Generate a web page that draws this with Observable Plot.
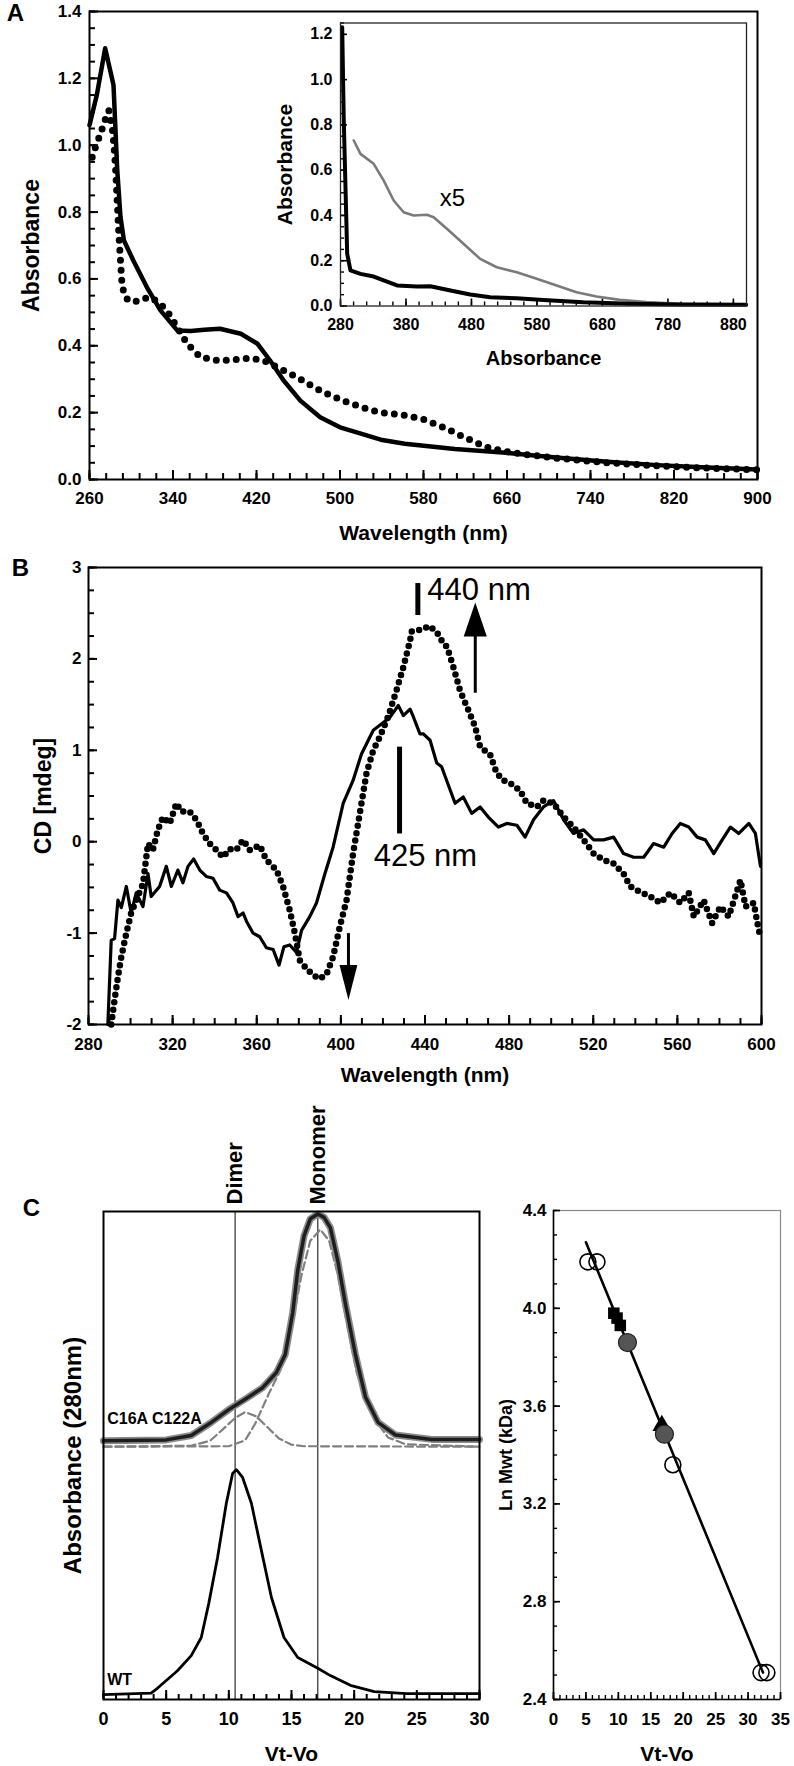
<!DOCTYPE html>
<html><head><meta charset="utf-8">
<script src="https://cdn.jsdelivr.net/npm/d3@7"></script>
<script src="https://cdn.jsdelivr.net/npm/@observablehq/plot@0.6"></script>
<style>
body{margin:0;background:#fff;}
#wrap{position:relative;width:794px;height:1766px;overflow:hidden;background:#fff;}
#wrap svg{position:absolute;}
</style>
</head><body><div id="wrap"></div>
<script>
// ---------- Panel A : absorbance spectra ----------
const absSolid = [[260,1.06],[267,1.15],[275,1.29],[283,1.18],[286.5,0.93],[289.7,0.785],[293,0.715],[302,0.655],[315,0.575],[328,0.506],[344,0.446],[357,0.444],[370,0.448],[385,0.451],[405,0.436],[421,0.406],[433,0.356],[446,0.296],[462,0.236],[481,0.186],[500,0.156],[520,0.137],[539,0.119],[562,0.107],[610,0.091],[659,0.080],[707,0.066],[756,0.053],[804,0.043],[852,0.036],[900,0.030]];
const absDotted = [[262.6,0.964],[265.7,0.994],[270.5,1.034],[275.3,1.079],[278.5,1.104],[281.7,1.054],[283.3,1.004],[284.9,0.934],[286.5,0.835],[288.1,0.735],[289.7,0.655],[291.3,0.575],[296,0.540],[302,0.530],[310.5,0.540],[318.4,0.545],[328,0.526],[336,0.496],[344,0.456],[353.6,0.406],[366.3,0.366],[382.3,0.356],[398.2,0.358],[414.2,0.363],[427,0.356],[443,0.331],[459,0.306],[475,0.276],[491,0.251],[507,0.231],[523,0.214],[537,0.201],[560,0.193],[580,0.180],[600,0.155],[620,0.125],[640,0.097],[660,0.083],[680,0.074],[707,0.064],[756,0.050],[804,0.041],[852,0.034],[900,0.029]];
const absXTicks = [260,340,420,500,580,660,740,820,900];
const absYTicks = [0,0.2,0.4,0.6,0.8,1.0,1.2,1.4];

// inset
const insetBlack = [[282.6,1.231],[285,0.819],[287.6,0.525],[290.2,0.231],[295.2,0.157],[310.5,0.142],[330.7,0.130],[346,0.113],[366.4,0.091],[396.8,0.086],[417.1,0.087],[442.5,0.072],[478,0.051],[508.5,0.039],[549,0.034],[589.7,0.027],[650.6,0.017],[721.7,0.010],[798,0.007],[899.5,0.006]];
const insetX5 = [[300.3,0.731],[310.5,0.672],[330.7,0.628],[346,0.554],[361.2,0.466],[376.4,0.414],[391.7,0.400],[412,0.403],[422.2,0.392],[442.5,0.341],[467.8,0.275],[493.3,0.208],[518.7,0.171],[549.1,0.149],[579.6,0.120],[610,0.091],[640.5,0.061],[671,0.042],[706.5,0.027],[747.2,0.017],[798,0.010],[899.5,0.008]];
const insetXTicks = [280,380,480,580,680,780,880];
const insetYTicks = [0,0.2,0.4,0.6,0.8,1.0,1.2];
const insetNote = [{x:451,y:0.475,t:"x5"}];

// ---------- Panel B : CD spectra ----------
const cdSolid = [[289.2,-2.0],[290.8,-1.08],[292.4,-1.06],[294,-0.64],[295.6,-0.72],[298,-0.49],[300.3,-0.78],[302.7,-0.56],[305.9,-0.71],[308.3,-0.35],[309.8,-0.60],[313.8,-0.49],[317,-0.27],[319.4,-0.49],[322.5,-0.31],[324.9,-0.45],[327.3,-0.27],[330,-0.19],[332.9,-0.31],[336,-0.38],[339.2,-0.40],[342.4,-0.53],[345.6,-0.56],[348.7,-0.67],[351.1,-0.82],[353.5,-0.78],[355.1,-0.87],[358.2,-1.0],[361.4,-1.04],[364.6,-1.16],[367.8,-1.18],[370.6,-1.35],[372.9,-1.15],[375.7,-1.13],[378.9,-1.21],[381.3,-0.97],[385.2,-0.82],[388.4,-0.67],[392.4,-0.35],[396.3,-0.06],[401.1,0.42],[405.8,0.67],[409.8,0.96],[415.4,1.22],[419.4,1.29],[423.3,1.36],[427.3,1.49],[429.7,1.38],[432.9,1.45],[434.4,1.37],[437.6,1.18],[439.2,1.18],[442.4,1.11],[445.6,0.86],[447.9,0.82],[450.3,0.67],[454.3,0.42],[458.2,0.49],[462.2,0.31],[466.2,0.38],[470.1,0.27],[474.9,0.16],[478.9,0.20],[483.7,0.18],[487.6,0.05],[491.6,0.24],[496.3,0.38],[501.1,0.45],[505.9,0.24],[510.6,0.09],[515.4,0.13],[520.2,0.02],[524.9,0.02],[529.7,0.05],[534.4,-0.13],[539.2,-0.17],[544,-0.17],[548.7,-0.02],[553.5,-0.06],[557.5,0.09],[561.4,0.20],[565.4,0.16],[569.4,0.05],[573.3,0.02],[577.3,-0.13],[581.3,0.02],[585.2,0.16],[589.2,0.09],[594,0.20],[597.1,0.09],[599.5,-0.27]];
const cdDotted = [[290.8,-2.0],[292.4,-1.73],[294,-1.48],[295.6,-1.26],[298,-1.0],[300.3,-0.78],[302.7,-0.64],[305.9,-0.46],[308.3,-0.02],[310.6,-0.09],[313,0.13],[315.4,0.27],[318.6,0.20],[321.8,0.42],[324.1,0.33],[328.1,0.33],[331.3,0.24],[334.4,0.09],[337.6,-0.02],[340.8,-0.09],[344,-0.17],[347.1,-0.08],[350.3,-0.09],[353.5,0.02],[356.7,-0.09],[361.4,-0.04],[364.6,-0.20],[369.4,-0.31],[372.5,-0.49],[375.7,-0.75],[378.1,-1.0],[380.5,-1.30],[383.7,-1.39],[386.8,-1.46],[390,-1.50],[393.2,-1.45],[396.3,-1.26],[399.5,-0.93],[402.7,-0.64],[405.8,-0.13],[409,0.31],[412.2,0.75],[415.4,1.0],[418.6,1.15],[422.5,1.37],[426.5,1.66],[429.7,1.91],[432.9,2.20],[433.7,2.30],[438,2.32],[442.1,2.36],[445.7,2.29],[448.7,2.17],[450.5,2.13],[453.5,1.91],[456.7,1.65],[460.6,1.44],[463.8,1.26],[466.2,1.04],[471,0.95],[474.1,0.75],[477.3,0.67],[480.5,0.64],[485.2,0.56],[488.4,0.42],[493.2,0.38],[496.3,0.45],[501.1,0.42],[505.9,0.27],[510.6,0.16],[515.4,0.02],[520.2,-0.13],[524.9,-0.20],[529.7,-0.24],[534.4,-0.35],[537.6,-0.49],[542.4,-0.55],[547.1,-0.60],[551.9,-0.67],[556.7,-0.56],[561.4,-0.67],[565.4,-0.56],[567.8,-0.82],[572.5,-0.64],[576.5,-0.89],[580.5,-0.71],[584.4,-0.82],[590,-0.42],[592.4,-0.71],[596.3,-0.67],[598.7,-0.97],[599.8,-1.04]];
const cdXTicks = [280,320,360,400,440,480,520,560,600];
const cdYTicks = [-2,-1,0,1,2,3];
const cdLabels = [{x:465.7,y:2.75,t:"440 nm"},{x:440.2,y:-0.16,t:"425 nm"}];
const cdBars = [{x:436.6,y1:2.48,y2:2.83},{x:427.9,y1:0.09,y2:1.04}];
const cdShafts = [{x:463.9,y1:1.63,y2:2.3},{x:403.6,y1:-1.0,y2:-1.4}];
const cdHeadUp = [{x:463.9,y:2.43}];
const cdHeadDown = [{x:403.6,y:-1.54}];

// ---------- Panel C : size exclusion ----------
const secWT = [[0,0.010],[3.8,0.013],[4.3,0.023],[5.9,0.059],[7.0,0.090],[7.8,0.127],[8.4,0.197],[9.1,0.291],[9.8,0.402],[10.3,0.463],[10.6,0.471],[11.1,0.455],[11.8,0.402],[12.6,0.305],[13.4,0.209],[14.4,0.127],[15.5,0.086],[17.1,0.064],[18.1,0.049],[19.7,0.029],[21.6,0.016],[24.2,0.012],[30,0.012]];
const secMut = [[0,0.53],[5,0.532],[7.0,0.541],[8.5,0.566],[10.1,0.596],[11.4,0.617],[12.7,0.639],[13.8,0.670],[14.5,0.707],[15.1,0.793],[15.5,0.880],[16.0,0.950],[16.5,0.985],[17.1,0.995],[17.6,0.988],[18.1,0.967],[18.7,0.898],[19.3,0.811],[20.1,0.707],[20.9,0.620],[21.9,0.568],[23.3,0.542],[26.2,0.533],[30,0.533]];
const secDimerFit = [[0,0.518],[7,0.520],[8.5,0.530],[9.5,0.553],[10.5,0.577],[11.3,0.589],[12.2,0.580],[13.0,0.560],[14.0,0.535],[15.0,0.522],[16,0.519],[30,0.518]];
const secMonomerFit = [[0,0.518],[10,0.519],[11.3,0.531],[12.1,0.565],[13.2,0.627],[14.1,0.674],[15,0.76],[15.8,0.87],[16.5,0.94],[17.3,0.963],[18.0,0.94],[18.7,0.87],[19.5,0.76],[20.2,0.67],[20.9,0.619],[21.7,0.572],[22.7,0.537],[24.1,0.523],[30,0.518]];
const secMarkers = [{x:10.5,t:"Dimer"},{x:17.1,t:"Monomer"}];
const secLabels = [{x:0.3,y:0.576,t:"C16A C122A"},{x:0.3,y:0.041,t:"WT"}];
const secXTicks = [0,5,10,15,20,25,30];

const calFit = [[5.0,4.27],[32.3,2.51]];
const calOpen = [[5.3,4.19],[6.7,4.19],[18.4,3.36],[32.0,2.51],[32.9,2.51]];
const calGray = [[11.4,3.86],[17.1,3.485]];
const calSquare = [[9.3,3.98],[9.8,3.96],[10.3,3.93]];
const calTriangle = [[16.7,3.52]];
const calXTicks = [0,5,10,15,20,25,30,35];
const calYTicks = [2.4,2.8,3.2,3.6,4.0,4.4];

// ---------- helpers ----------
const FONT = "'Liberation Sans', Arial, Helvetica, sans-serif";
const wrap = document.getElementById("wrap");
function place(svg, left, top) { svg.style.left = left + "px"; svg.style.top = top + "px"; wrap.appendChild(svg); }
function baseStyle() { return {fontFamily: FONT, fontSize: "17px", fontWeight: "bold", color: "#000", background: "transparent", overflow: "visible"}; }
// inward tick marks along the bottom / left frame edges, drawn as short rules through the scales
function xTickMarks(vals, yDom, ih, len, sw = 2) {
  const k = (yDom[1] - yDom[0]) * len / ih;
  return Plot.ruleX(vals, {x: d => d, y1: () => yDom[0], y2: () => yDom[0] + k, stroke: "#000", strokeWidth: sw});
}
function yTickMarks(vals, xDom, iw, len, sw = 2) {
  const k = (xDom[1] - xDom[0]) * len / iw;
  return Plot.ruleY(vals, {y: d => d, x1: () => xDom[0], x2: () => xDom[0] + k, stroke: "#000", strokeWidth: sw});
}
const headSym = (wf) => ({draw(ctx, size) { const r = Math.sqrt(size / Math.PI); ctx.moveTo(0, -r); ctx.lineTo(wf * r, r); ctx.lineTo(-wf * r, r); ctx.closePath(); }});
const fmt1 = d3.format(".1f");
const C = {textAnchor: "middle", lineAnchor: "middle"};
function xLabel(t, dy, fs) { return Plot.text([t], {text: d => d, frameAnchor: "bottom", dy, fontSize: fs, ...C}); }
function yLabel(t, dx, fs) { return Plot.text([t], {text: d => d, frameAnchor: "left", dx, rotate: -90, fontSize: fs, ...C}); }
function panelTag(t, dx, dy) { return Plot.text([t], {text: d => d, frameAnchor: "top-left", dx, dy, fontSize: 24, ...C}); }

// ---------- Panel A main ----------
{
  const W = 794, H = 545, mt = 11, mb = 66, ml = 89, mr = 37;
  const iw = W - ml - mr, ih = H - mt - mb;
  const xd = [260, 900], yd = [0, 1.4];
  const svg = Plot.plot({
    width: W, height: H, marginTop: mt, marginBottom: mb, marginLeft: ml, marginRight: mr,
    style: baseStyle(),
    x: {domain: xd}, y: {domain: yd},
    marks: [
      xTickMarks(d3.range(260, 901, 16), yd, ih, 6),
      xTickMarks(absXTicks, yd, ih, 9),
      yTickMarks(d3.range(0, 1.401, 0.05), xd, iw, 6),
      yTickMarks(absYTicks, xd, iw, 9),
      Plot.axisX({ticks: absXTicks, tickSize: 0, tickPadding: 12, tickFormat: d => d, label: null, fontSize: 17}),
      Plot.axisY({ticks: absYTicks, tickSize: 0, tickPadding: 8, tickFormat: fmt1, label: null, fontSize: 17}),
      Plot.line(absDotted, {x: d => d[0], y: d => d[1], stroke: "#000", strokeWidth: 7, strokeDasharray: "0 10", strokeLinecap: "round"}),
      Plot.line(absSolid, {x: d => d[0], y: d => d[1], stroke: "#000", strokeWidth: 4.5, strokeLinejoin: "round"}),
      Plot.frame({stroke: "#000", strokeWidth: 2}),
      xLabel("Wavelength (nm)", 54, 21),
      yLabel("Absorbance", -58, 23),
      panelTag("A", -74, 2)
    ]
  });
  place(svg, 0, 0);
}

// ---------- Panel A inset ----------
{
  const W = 500, H = 380, mt = 22.5, mb = 74.5, ml = 70, mr = 24;
  const iw = W - ml - mr, ih = H - mt - mb;
  const xd = [280, 900], yd = [0, 1.25];
  const svg = Plot.plot({
    width: W, height: H, marginTop: mt, marginBottom: mb, marginLeft: ml, marginRight: mr,
    style: baseStyle(),
    x: {domain: xd}, y: {domain: yd},
    marks: [
      xTickMarks(d3.range(280, 900, 20), yd, ih, 4, 1.4),
      xTickMarks(insetXTicks, yd, ih, 7, 1.6),
      yTickMarks(d3.range(0, 1.251, 0.05), xd, iw, 4, 1.4),
      yTickMarks(insetYTicks, xd, iw, 7, 1.6),
      Plot.axisX({ticks: insetXTicks, tickSize: 0, tickPadding: 13, tickFormat: d => d, label: null, fontSize: 16}),
      Plot.axisY({ticks: insetYTicks, tickSize: 0, tickPadding: 8, tickFormat: fmt1, label: null, fontSize: 16}),
      Plot.line(insetX5, {x: d => d[0], y: d => d[1], stroke: "#7a7a7a", strokeWidth: 2.6, strokeLinejoin: "round"}),
      Plot.line(insetBlack, {x: d => d[0], y: d => d[1], stroke: "#000", strokeWidth: 4, strokeLinejoin: "round"}),
      Plot.frame({stroke: "#222", strokeWidth: 1.3}),
      Plot.text(insetNote, {x: "x", y: "y", text: "t", fontSize: 24, fontWeight: "normal"}),
      xLabel("Absorbance", 53, 20),
      yLabel("Absorbance", -55, 21)
    ]
  });
  place(svg, 270, 0);
}

// ---------- Panel B ----------
{
  const W = 794, H = 540, mt = 22, mb = 61, ml = 88, mr = 33;
  const iw = W - ml - mr, ih = H - mt - mb;
  const xd = [280, 600], yd = [-2, 3];
  const svg = Plot.plot({
    width: W, height: H, marginTop: mt, marginBottom: mb, marginLeft: ml, marginRight: mr,
    style: baseStyle(),
    x: {domain: xd}, y: {domain: yd},
    marks: [
      xTickMarks(d3.range(280, 601, 10), yd, ih, 6),
      xTickMarks(cdXTicks, yd, ih, 9),
      yTickMarks(d3.range(-2, 3.01, 0.25), xd, iw, 6),
      yTickMarks(cdYTicks, xd, iw, 9),
      Plot.axisX({ticks: cdXTicks, tickSize: 0, tickPadding: 13, tickFormat: d => d, label: null, fontSize: 17}),
      Plot.axisY({ticks: cdYTicks, tickSize: 0, tickPadding: 7, tickFormat: d => d, label: null, fontSize: 17}),
      Plot.line(cdDotted, {x: d => d[0], y: d => d[1], stroke: "#000", strokeWidth: 6.5, strokeDasharray: "0 7.5", strokeLinecap: "round"}),
      Plot.line(cdSolid, {x: d => d[0], y: d => d[1], stroke: "#000", strokeWidth: 3.2, strokeLinejoin: "round"}),
      Plot.link(cdBars, {x1: "x", x2: "x", y1: "y1", y2: "y2", stroke: "#000", strokeWidth: 5}),
      Plot.link(cdShafts, {x1: "x", x2: "x", y1: "y1", y2: "y2", stroke: "#000", strokeWidth: 3}),
      Plot.dot(cdHeadUp, {x: "x", y: "y", r: 17, symbol: headSym(0.68), fill: "#000", stroke: "none"}),
      Plot.dot(cdHeadDown, {x: "x", y: "y", r: 17.5, symbol: headSym(0.51), rotate: 180, fill: "#000", stroke: "none"}),
      Plot.text(cdLabels, {x: "x", y: "y", text: "t", fontSize: 31, fontWeight: "normal"}),
      Plot.frame({stroke: "#000", strokeWidth: 2}),
      xLabel("Wavelength (nm)", 51, 21),
      yLabel("CD [mdeg]", -45, 23),
      panelTag("B", -68, 1)
    ]
  });
  place(svg, 0, 545);
}

// ---------- Panel C left ----------
{
  const W = 490, H = 681, mt = 126, mb = 67, ml = 103, mr = 11;
  const iw = W - ml - mr, ih = H - mt - mb;
  const xd = [0, 30], yd = [0, 1];
  const svg = Plot.plot({
    width: W, height: H, marginTop: mt, marginBottom: mb, marginLeft: ml, marginRight: mr,
    style: baseStyle(),
    x: {domain: xd}, y: {domain: yd, axis: null},
    marks: [
      xTickMarks(d3.range(0, 31, 1), yd, ih, 5),
      xTickMarks(secXTicks, yd, ih, 9),
      Plot.axisX({ticks: secXTicks, tickSize: 0, tickPadding: 13, tickFormat: d => d, label: null, fontSize: 18}),
      Plot.ruleX(secMarkers, {x: "x", stroke: "#000", strokeWidth: 1}),
      Plot.line(secDimerFit, {x: d => d[0], y: d => d[1], stroke: "#808080", strokeWidth: 2.2, strokeDasharray: "8 4"}),
      Plot.line(secMonomerFit, {x: d => d[0], y: d => d[1], stroke: "#808080", strokeWidth: 2.2, strokeDasharray: "8 4"}),
      Plot.line(secMut, {x: d => d[0], y: d => d[1], stroke: "#8a8a8a", strokeWidth: 7, strokeLinejoin: "round"}),
      Plot.line(secMut, {x: d => d[0], y: d => d[1], stroke: "#1e1e1e", strokeWidth: 3.5, strokeLinejoin: "round"}),
      Plot.line(secWT, {x: d => d[0], y: d => d[1], stroke: "#000", strokeWidth: 2.8, strokeLinejoin: "round"}),
      Plot.text(secLabels, {x: "x", y: "y", text: "t", textAnchor: "start", lineAnchor: "middle", fontSize: 16}),
      Plot.text(secMarkers, {x: "x", text: "t", frameAnchor: "top", dy: -7, rotate: -90, textAnchor: "start", lineAnchor: "middle", fontSize: 22}),
      Plot.frame({stroke: "#000", strokeWidth: 2}),
      xLabel("Vt-Vo", 55, 21),
      yLabel("Absorbance (280nm)", -30, 24),
      panelTag("C", -72, -3)
    ]
  });
  place(svg, 0, 1085);
}

// ---------- Panel C right ----------
{
  const W = 304, H = 681, mt = 125, mb = 67, ml = 63, mr = 14;
  const iw = W - ml - mr, ih = H - mt - mb;
  const xd = [0, 35], yd = [2.4, 4.4];
  const svg = Plot.plot({
    width: W, height: H, marginTop: mt, marginBottom: mb, marginLeft: ml, marginRight: mr,
    style: baseStyle(),
    x: {domain: xd}, y: {domain: yd},
    marks: [
      Plot.frame({stroke: "#888", strokeWidth: 1.2}),
      xTickMarks(d3.range(0, 36, 1), yd, ih, 4, 1.4),
      xTickMarks(calXTicks, yd, ih, 7, 1.7),
      yTickMarks(d3.range(2.4, 4.401, 0.1), xd, iw, 4, 1.4),
      yTickMarks(calYTicks, xd, iw, 7, 1.7),
      Plot.ruleX([0], {stroke: "#000", strokeWidth: 1.6}),
      Plot.ruleY([2.4], {stroke: "#000", strokeWidth: 1.6}),
      Plot.axisX({ticks: calXTicks, tickSize: 0, tickPadding: 13, tickFormat: d => d, label: null, fontSize: 17}),
      Plot.axisY({ticks: calYTicks, tickSize: 0, tickPadding: 7, tickFormat: fmt1, label: null, fontSize: 17}),
      Plot.line(calFit, {x: d => d[0], y: d => d[1], stroke: "#000", strokeWidth: 2.6}),
      Plot.dot(calSquare, {x: d => d[0], y: d => d[1], symbol: "square", r: 6.5, fill: "#000", stroke: "none"}),
      Plot.dot(calTriangle, {x: d => d[0], y: d => d[1], symbol: "triangle", r: 7, fill: "#000", stroke: "none"}),
      Plot.dot(calGray, {x: d => d[0], y: d => d[1], r: 9, fill: "#555", stroke: "#222", strokeWidth: 1.2}),
      Plot.dot(calOpen, {x: d => d[0], y: d => d[1], r: 8, fill: "#fff", fillOpacity: 0, stroke: "#000", strokeWidth: 1.6}),
      xLabel("Vt-Vo", 55, 21),
      yLabel("Ln Mwt (kDa)", -47, 18)
    ]
  });
  place(svg, 490, 1085);
}
</script>
</body></html>
